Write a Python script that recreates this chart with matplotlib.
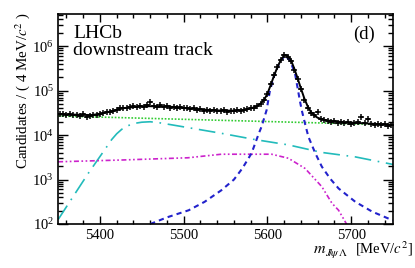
import numpy as np
import matplotlib
matplotlib.use("Agg")
import matplotlib.pyplot as plt
from matplotlib.ticker import MultipleLocator, LogLocator, NullFormatter

plt.rcParams['font.family'] = ['Liberation Serif', 'DejaVu Serif']
plt.rcParams['mathtext.fontset'] = 'stix'

# ---- data ----
bin_centers = np.arange(5352, 5750, 4)
data_counts = [
    29500, 30000, 28800, 29500, 28200, 28800, 27500, 29500,
    25100, 26300, 28800, 28200,
    30200, 31600, 33100, 32400, 35500, 36300,
    39800, 41700, 40700, 42700, 44700, 42700, 45700, 43700, 47900, 56200,
    45700, 43700, 46800, 42700, 44700, 41700, 43700, 40700, 42700, 39800,
    39800, 38000, 40700, 36300, 38000, 35500, 37200, 34700, 36300, 35500,
    34700, 36300, 33900, 35500, 34700, 36300, 35500, 37200, 38900, 41700,
    41700, 45700, 50100, 63100, 85100, 141000, 224000, 339000, 479000, 617000,
    575000, 457000, 288000, 178000, 107000, 63100, 41700, 31600, 28200, 33100,
    23400, 21400, 20900, 20000, 20400, 19100, 20000, 18600, 19500, 18200,
    19100, 20000, 25100, 18600, 23400, 17800, 17000, 17800, 16600, 17400, 16200, 17000,
]

# total fit (log10 of candidates)
total_mass = [5350, 5370, 5390, 5400, 5410, 5420, 5430, 5440, 5450, 5460, 5470, 5480,
              5490, 5500, 5510, 5520, 5530, 5540, 5550, 5560, 5570, 5576, 5582, 5588,
              5592, 5596, 5600, 5604, 5608, 5612, 5616, 5620, 5622, 5624, 5628, 5632,
              5636, 5640, 5644, 5648, 5652, 5656, 5660, 5666, 5675, 5690, 5710, 5730, 5750]
total_log10 = [4.47, 4.46, 4.45, 4.48, 4.52, 4.57, 4.61, 4.63, 4.645, 4.65, 4.645, 4.64,
               4.63, 4.61, 4.595, 4.58, 4.565, 4.555, 4.55, 4.55, 4.56, 4.58, 4.61, 4.66,
               4.71, 4.79, 4.93, 5.13, 5.34, 5.53, 5.69, 5.79, 5.80, 5.79, 5.69, 5.50,
               5.28, 5.05, 4.83, 4.65, 4.52, 4.44, 4.39, 4.35, 4.32, 4.29, 4.27, 4.25, 4.23]

# signal (blue dashed)
sig_mass = [5460, 5480, 5506, 5525, 5545, 5560, 5570, 5581, 5590, 5593, 5599, 5603,
            5609, 5615, 5621, 5627, 5633, 5639, 5641, 5645, 5649, 5657, 5665, 5675,
            5685, 5705, 5725, 5750]
sig_log10 = [2.00, 2.15, 2.31, 2.50, 2.76, 3.00, 3.25, 3.59, 4.05, 4.19, 4.56, 5.00,
             5.39, 5.65, 5.79, 5.68, 5.38, 4.75, 4.56, 4.25, 3.96, 3.60, 3.29, 3.02,
             2.80, 2.50, 2.28, 2.08]

# combinatorial background (green dotted)
comb_mass = [5350, 5750]
comb_log10 = [4.43, 4.23]

# cyan dash-dot component
cyan_mass = [5350, 5368, 5386, 5406, 5414, 5420, 5426, 5432, 5440, 5450, 5460, 5470,
             5486, 5545, 5585, 5625, 5665, 5705, 5750]
cyan_log10 = [2.10, 2.62, 3.14, 3.68, 3.90, 4.03, 4.13, 4.20, 4.26, 4.29, 4.30, 4.28,
              4.23, 4.04, 3.90, 3.78, 3.61, 3.51, 3.34]

# magenta dash-dot-dot component
mag_mass = [5350, 5426, 5505, 5545, 5605, 5625, 5645, 5665, 5677, 5685, 5693, 5700]
mag_log10 = [3.40, 3.44, 3.49, 3.57, 3.57, 3.48, 3.25, 2.84, 2.47, 2.31, 2.05, 1.80]

# ---- plot ----
W, H = 415, 268
fig = plt.figure(figsize=(W / 100, H / 100), dpi=100)
ax = fig.add_axes([0.140, 0.164, 0.807, 0.784])

lw = 1.2
ax.plot(comb_mass, 10 ** np.array(comb_log10), color='#33cc33', ls=(0, (1, 1)), lw=lw)
ax.plot(cyan_mass, 10 ** np.array(cyan_log10), color='#22bbbb', ls=(0, (10, 4, 1, 4)), lw=lw)
ax.plot(mag_mass, 10 ** np.array(mag_log10), color='#cc22cc', ls=(0, (3, 1.5, 1, 1.5, 1, 1.5)), lw=lw)
ax.plot(sig_mass, 10 ** np.array(sig_log10), color='#2222cc', ls=(0, (2.5, 2)), lw=1.5)
ax.plot(total_mass, 10 ** np.array(total_log10), color='black', lw=1.4)

counts = np.array(data_counts, dtype=float)
ax.errorbar(bin_centers, counts, xerr=2, yerr=np.sqrt(counts), fmt='+', color='black',
            ms=5, mew=1.1, elinewidth=1.1, capsize=0)

ax.set_yscale('log')
ax.set_xlim(5350, 5750)
ax.set_ylim(100, 5.3e6)

ax.xaxis.set_major_locator(MultipleLocator(100))
ax.xaxis.set_minor_locator(MultipleLocator(20))
ax.yaxis.set_major_locator(LogLocator(base=10, numticks=10))
ax.yaxis.set_minor_locator(LogLocator(base=10, subs=np.arange(2, 10), numticks=20))
ax.yaxis.set_minor_formatter(NullFormatter())

ax.tick_params(axis='both', which='both', direction='in', top=True, right=True,
               labelsize=10.5, width=1.0)
ax.tick_params(axis='x', which='major', length=6, pad=3.5)
ax.tick_params(axis='x', which='minor', length=3)
ax.tick_params(axis='y', which='major', length=7, pad=3)
ax.tick_params(axis='y', which='minor', length=3.5)
for s in ax.spines.values():
    s.set_linewidth(1.2)

ax.set_ylabel(r'Candidates / ( 4 MeV/$c^2$ )', fontsize=10.8, loc='top')
ax.yaxis.set_label_coords(-0.078, 1.01)

# x-axis title, built from pieces to match the wide subscript
fig.text(313 / W, 1 - 253 / H, r'$m$', fontsize=11.5, ha='left', va='baseline')
fig.text(325 / W, 1 - 256 / H, r'$J\!/\!\psi\,\Lambda$', fontsize=8, ha='left', va='baseline')
fig.text(413 / W, 1 - 253 / H, r'[MeV/$c^2$]', fontsize=10.5, ha='right', va='baseline')

ax.text(0.045, 0.945, 'LHCb\ndownstream track', transform=ax.transAxes, fontsize=14,
        va='top', ha='left', linespacing=0.95)
ax.text(0.946, 0.945, '(d)', transform=ax.transAxes, fontsize=13.5, va='top', ha='right')

fig.savefig('out.png', dpi=100)
